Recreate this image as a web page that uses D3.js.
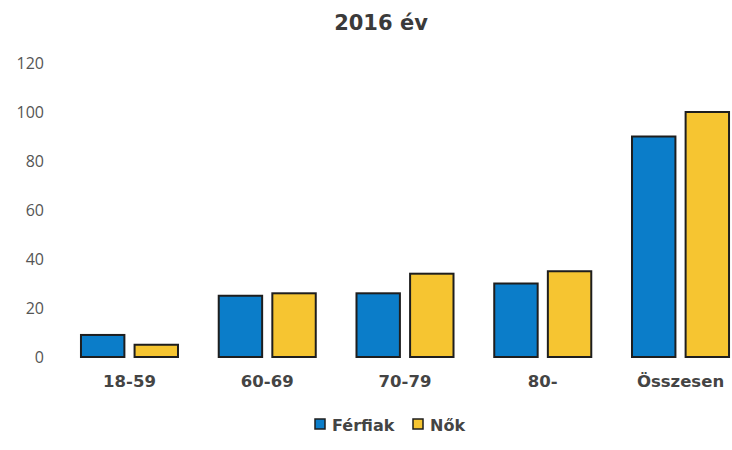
<!DOCTYPE html>
<html><head><meta charset="utf-8">
<script src="https://cdn.jsdelivr.net/npm/d3@7"></script>
<style>body{margin:0;background:#fff}svg{display:block}</style>
</head><body>
<svg id="chart" width="732" height="450"></svg>
<script>
const title = "2016 év";
const categories = ["18-59", "60-69", "70-79", "80-", "Összesen"];
const seriesNames = ["Férfiak", "Nők"];
const ferfiak = [9, 25, 26, 30, 90];
const nok = [5, 26, 34, 35, 100];
const yTicks = [0, 20, 40, 60, 80, 100, 120];
const colors = ["#0b7dc9", "#f6c531"];

const svg = d3.select("#chart");
const x = d3.scaleBand().domain(categories).range([60.6, 749.4]);
const inner = d3.scaleBand().domain(seriesNames).range([0, x.bandwidth()]).paddingInner(0.19).paddingOuter(0.38);
const y = d3.scaleLinear().domain([0, 120]).range([357, 63]);

svg.append("text").attr("x", 381).attr("y", 30).attr("text-anchor", "middle")
  .attr("font-family", "DejaVu Sans, Verdana, sans-serif").attr("font-weight", "bold")
  .attr("font-size", 21).attr("fill", "#3a3a3a").text(title);

const yAxis = svg.append("g").attr("transform", "translate(44,0)")
  .call(d3.axisLeft(y).tickValues(yTicks).tickSize(0).tickPadding(0));
yAxis.select(".domain").remove();
yAxis.selectAll("text").attr("font-family", "Open Sans, Liberation Sans, sans-serif")
  .attr("font-size", 16).attr("fill", "#555");

const data = [ferfiak, nok];
data.forEach((vals, si) => {
  svg.append("g").selectAll("rect").data(categories).join("rect")
    .attr("x", c => x(c) + inner(seriesNames[si]))
    .attr("y", (c, i) => y(vals[i]))
    .attr("width", inner.bandwidth())
    .attr("height", (c, i) => y(0) - y(vals[i]))
    .attr("fill", colors[si]).attr("stroke", "#1e1e1e").attr("stroke-width", 2);
});

const xAxis = svg.append("g").attr("transform", "translate(0,357)")
  .call(d3.axisBottom(x).tickSize(0).tickPadding(18));
xAxis.select(".domain").remove();
xAxis.selectAll("text").attr("font-family", "DejaVu Sans, Verdana, sans-serif")
  .attr("font-weight", "bold").attr("font-size", 16.5).attr("fill", "#444");

const legend = svg.append("g").attr("transform", "translate(0,425)");
const legX = [315, 413];
seriesNames.forEach((n, i) => {
  legend.append("rect").attr("x", legX[i]).attr("y", -6).attr("width", 10).attr("height", 10)
    .attr("fill", colors[i]).attr("stroke", "#1e1e1e").attr("stroke-width", 1.5);
  legend.append("text").attr("x", legX[i] + 17).attr("y", 5.5)
    .attr("font-family", "DejaVu Sans, Verdana, sans-serif").attr("font-weight", "bold")
    .attr("font-size", 16).attr("fill", "#444").text(n);
});
</script>
</body></html>
